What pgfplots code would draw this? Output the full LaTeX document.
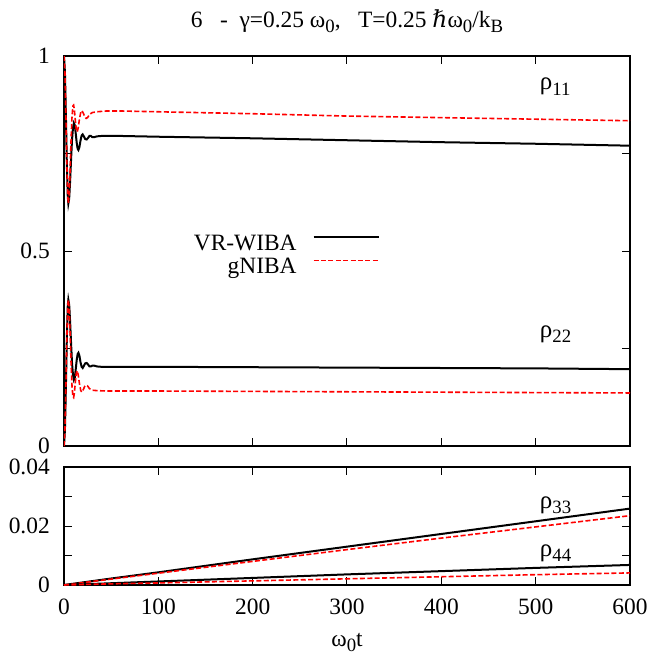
\documentclass[border=0pt]{standalone}
\usepackage{fontspec}
\setmainfont{Liberation Serif}
\newfontfamily\dv{DejaVu Serif}
\usepackage{pgfplots}
\pgfplotsset{compat=1.18}
\newcommand\sub[1]{\raisebox{-2.7pt}{\fontsize{9.4}{10}\selectfont #1}}
\newcommand\fnt{\fontsize{11.7}{14}\selectfont}
\newcommand\rh{{\fontsize{12.5}{14}\selectfont ρ}}

\begin{document}
\begin{tikzpicture}[font=\fnt]
\pgfplotsset{
  myax/.style={
    scale only axis, width=283pt,
    xmin=0, xmax=600,
    xtick={0,100,200,300,400,500,600},
    tick align=inside,
    major tick length=4pt,
    axis line style={line width=0.6pt},
    every tick/.style={black, line width=0.5pt},
    tick label style={font=\fnt},
    yticklabel style={xshift=-3.6pt},
    xticklabel style={yshift=-3.6pt},
    scaled y ticks=false,
    clip=true,
  },
  blk/.style={black, line width=1pt},
  rd/.style={red, line width=0.8pt, dash pattern=on 2.5pt off 1.2pt},
}
\begin{axis}[myax, at={(32pt,-28pt)}, anchor=north west, height=195pt,
  ymin=0, ymax=1, ytick={0,0.25,0.5,0.75,1}, yticklabels={0,,0.5,,1},
  xticklabels={},
  legend plot pos=right,
  legend image code/.code={\draw[#1] (0pt,3.6pt) -- (32.5pt,3.6pt);},
  legend style={draw=none, fill=none, at={(0.5583,0.487)}, anchor=east,
    inner sep=0pt, row sep=0.5pt, column sep=8pt, font=\fnt,
    cells={anchor=east},
    nodes={inner sep=0pt, text height=8.5pt, text depth=2.5pt}},
]
% rho11 VR-WIBA
\addplot[blk] coordinates {
(0,1.000)(1,0.958)(2,0.850)(3,0.725)(4,0.640)(4.6,0.622)(5.5,0.635)(6.5,0.680)
(7.5,0.735)(8.5,0.785)(9.5,0.815)(10.5,0.828)(11.5,0.822)(12.5,0.800)(13.5,0.777)
(14.5,0.762)(15.3,0.759)(16.3,0.766)(17.5,0.783)(18.7,0.796)(19.8,0.799)(21,0.794)
(22.5,0.787)(24,0.786)(25.5,0.790)(27,0.795)(28.5,0.795)(30,0.792)(32,0.792)
(35,0.794)(40,0.795)(60,0.795)(100,0.793)(200,0.789)(300,0.784)(400,0.779)
(500,0.775)(600,0.770)};
\addlegendentry{VR-WIBA}
% rho11 gNIBA
\addplot[rd] coordinates {
(0,1.000)(1,0.958)(2,0.850)(3,0.725)(4,0.640)(4.6,0.622)(5.5,0.645)(6.5,0.710)
(7.5,0.785)(8.5,0.845)(9.5,0.872)(10.2,0.874)(11,0.862)(12,0.835)(13,0.812)
(14,0.805)(15,0.815)(16.5,0.840)(17.8,0.856)(19,0.860)(20.5,0.853)(22,0.845)
(23.5,0.840)(25,0.842)(27,0.850)(30,0.855)(35,0.857)(45,0.859)(60,0.859)
(100,0.857)(200,0.852)(300,0.846)(400,0.842)(500,0.838)(600,0.834)};
\addlegendentry{gNIBA}
% rho22 VR-WIBA
\addplot[blk, forget plot] coordinates {
(0,0.000)(1,0.042)(2,0.150)(3,0.275)(4,0.360)(4.6,0.375)(5.5,0.362)(6.5,0.318)
(7.5,0.263)(8.5,0.213)(9.5,0.183)(10.5,0.170)(11.5,0.176)(12.5,0.198)(13.5,0.221)
(14.5,0.236)(15.3,0.239)(16.3,0.232)(17.5,0.215)(18.7,0.203)(19.8,0.200)(21,0.205)
(22.5,0.212)(24,0.213)(25.5,0.209)(27,0.204)(28.5,0.204)(30,0.206)(32,0.206)
(35,0.204)(40,0.203)(60,0.203)(100,0.203)(200,0.202)(300,0.201)(400,0.200)
(500,0.199)(600,0.197)};
% rho22 gNIBA
\addplot[rd, forget plot] coordinates {
(0,0.000)(1,0.042)(2,0.150)(3,0.275)(4,0.360)(4.6,0.375)(5.5,0.353)(6.5,0.288)
(7.5,0.213)(8.5,0.153)(9.5,0.126)(10.2,0.124)(11,0.136)(12,0.163)(13,0.186)
(14,0.193)(15,0.183)(16.5,0.158)(17.8,0.142)(19,0.138)(20.5,0.145)(22,0.153)
(23.5,0.156)(25,0.154)(27,0.147)(30,0.143)(35,0.142)(45,0.141)(60,0.141)
(100,0.141)(200,0.140)(300,0.139)(400,0.138)(500,0.137)(600,0.136)};
\node[anchor=base west] at (axis cs:497,0.913) {\rh\sub{11}};
\node[anchor=base west] at (axis cs:497,0.279) {\rh\sub{22}};
\end{axis}

\begin{axis}[myax, at={(32pt,-233.5pt)}, anchor=north west, height=59pt,
  ymin=0, ymax=0.04, ytick={0,0.01,0.02,0.03,0.04}, yticklabels={0,,0.02,,0.04},
  xticklabels={0,100,200,300,400,500,600},
  xlabel={ω\sub{0}t},
  xlabel style={at={(axis description cs:0.5,0)}, anchor=base, yshift=-30.5pt},
]
\addplot[blk] coordinates {
(0,0)(25,0.0011)(50,0.0022)(100,0.0043)(200,0.0087)(300,0.0130)(400,0.0173)(500,0.0216)(600,0.0259)};
\addplot[rd] coordinates {
(0,0)(50,0.0020)(100,0.0040)(200,0.0080)(300,0.0120)(400,0.0159)(500,0.0197)(600,0.0235)};
\addplot[blk] coordinates {
(0,0)(25,0.0003)(50,0.0006)(100,0.0012)(200,0.0024)(300,0.0036)(400,0.0047)(500,0.0058)(600,0.0068)};
\addplot[rd] coordinates {
(0,0)(50,0.0004)(100,0.0007)(200,0.0014)(300,0.0021)(400,0.0028)(500,0.0035)(600,0.0041)};
\node[anchor=base west] at (axis cs:497,0.0261) {\rh\sub{33}};
\node[anchor=base west] at (axis cs:497,0.0098) {\rh\sub{44}};
\end{axis}

\node[anchor=base] at (173.5pt,-13.5pt) {6\ \ \ -\ \ γ=0.25 ω\sub{0},\ \ \ T=0.25 {\dv ℏ}ω\sub{0}/k\sub{B}};

\pgfresetboundingbox
\useasboundingbox (0,0) rectangle (325pt,-327pt);
\end{tikzpicture}
\end{document}
